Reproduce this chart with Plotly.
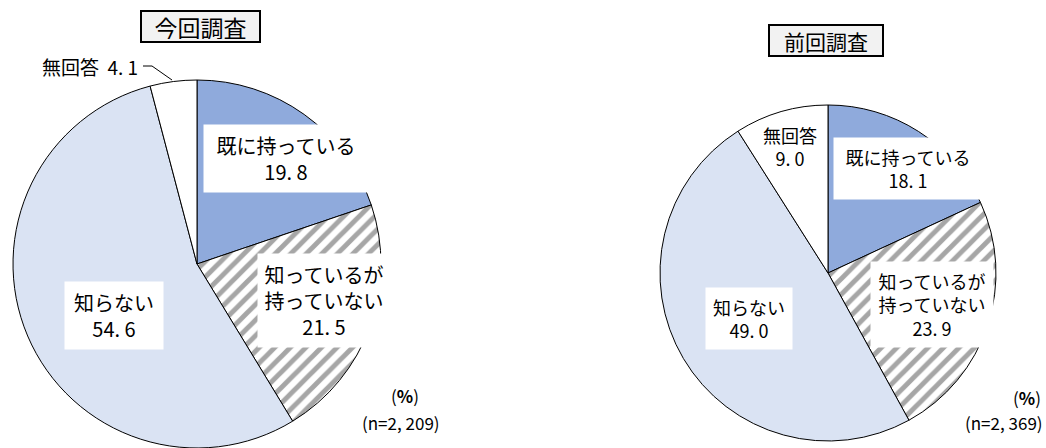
import plotly.graph_objects as go

W, H = 1046, 448

categories = ["既に持っている", "知っているが持っていない", "知らない", "無回答"]
label_lines = ["既に持っている", "知っているが<br>持っていない", "知らない", "無回答"]
current_values = [19.8, 21.5, 54.6, 4.1]
previous_values = [18.1, 23.9, 49.0, 9.0]
titles = ["今回調査", "前回調査"]
n_labels = ["(n=2, 209)", "(n=2, 369)"]
unit_label = "(<b>%</b>)"

colors = ["#8FAADC", "#FFFFFF", "#DAE3F3", "#FFFFFF"]
patterns = ["", "/", "", ""]
FONT = "Noto Sans CJK JP"


def px(x, y):
    return x / W, 1 - y / H


def pie(values, x0, x1, y0, y1):
    return go.Pie(
        labels=categories, values=values, sort=False, direction="clockwise",
        rotation=0, textinfo="none", hoverinfo="label+value", showlegend=False,
        domain=dict(x=[max(0, x0 / W), min(1, x1 / W)],
                    y=[max(0, 1 - y1 / H), min(1, 1 - y0 / H)]),
        marker=dict(colors=colors, line=dict(color="#000000", width=1),
                    pattern=dict(shape=patterns, fgcolor="#A6A6A6", size=11,
                                 solidity=0.45)),
    )


fig = go.Figure()
fig.add_trace(pie(current_values, 13, 381, 80, 448))
fig.add_trace(pie(previous_values, 660, 996, 105, 441))

ann = []


def fmt(v):
    return f"{v:.1f}".replace(".", ". ")


def label(x, y, text, size, bg="#FFFFFF", pad=6, w=None):
    xx, yy = px(x, y)
    d = dict(x=xx, y=yy, xref="paper", yref="paper", text=text,
             showarrow=False, xanchor="center", yanchor="middle",
             align="center", bgcolor=bg, borderpad=pad,
             font=dict(family=FONT, size=size, color="#000000"))
    if w:
        d["width"] = w
    ann.append(d)


# left pie labels
label(286, 158, f"{label_lines[0]}<br>{fmt(current_values[0])}", 20, w=152)
label(324, 300, f"{label_lines[1]}<br>{fmt(current_values[1])}", 20, w=120)
label(114, 315, f"{label_lines[2]}<br>{fmt(current_values[2])}", 20, w=86)
xx, yy = px(140, 66)
ann.append(dict(x=xx, y=yy, xref="paper", yref="paper",
                text=f"{categories[3]}  {fmt(current_values[3])}", showarrow=False,
                xanchor="right", yanchor="middle",
                font=dict(family=FONT, size=19, color="#000000")))

# right pie labels
label(790, 146, f"{label_lines[3]}<br>{fmt(previous_values[3])}", 18, bg="rgba(0,0,0,0)", pad=2)
label(908, 169, f"{label_lines[0]}<br>{fmt(previous_values[0])}", 18, w=136)
label(932, 304, f"{label_lines[1]}<br>{fmt(previous_values[1])}", 18, w=110)
label(749, 318, f"{label_lines[2]}<br>{fmt(previous_values[2])}", 18, w=74)

# titles
for (cx, cy, t, s, bw, bh) in [(201, 27, titles[0], 23, 113, 25), (826, 41, titles[1], 21, 108, 25)]:
    xx, yy = px(cx, cy)
    ann.append(dict(x=xx, y=yy, xref="paper", yref="paper", text=t, showarrow=False,
                    xanchor="center", yanchor="middle", bgcolor="#F2F2F2",
                    bordercolor="#000000", borderwidth=2, borderpad=2,
                    width=bw, height=bh,
                    font=dict(family=FONT, size=s, color="#000000")))

# unit and n labels
for (ux, uy) in [(421, 395), (1043, 397)]:
    xx, yy = px(ux, uy)
    ann.append(dict(x=xx, y=yy, xref="paper", yref="paper", text=unit_label,
                    showarrow=False, xanchor="right", yanchor="middle",
                    font=dict(family=FONT, size=17, color="#000000")))
for (nx, ny, t) in [(442, 422, n_labels[0]), (1045, 422, n_labels[1])]:
    xx, yy = px(nx, ny)
    ann.append(dict(x=xx, y=yy, xref="paper", yref="paper", text=t,
                    showarrow=False, xanchor="right", yanchor="middle",
                    font=dict(family=FONT, size=17, color="#000000")))

# leader line for small slice
p = [px(143, 66), px(152, 66), px(172, 80)]
path = "M {} {} L {} {} L {} {}".format(p[0][0], p[0][1], p[1][0], p[1][1], p[2][0], p[2][1])
shapes = [dict(type="path", xref="paper", yref="paper", path=path,
               line=dict(color="#000000", width=1))]

fig.update_layout(width=W, height=H, margin=dict(l=0, r=0, t=0, b=0),
                  paper_bgcolor="#FFFFFF", plot_bgcolor="#FFFFFF",
                  annotations=ann, shapes=shapes,
                  font=dict(family=FONT))
fig.write_html("out.html", config={"displayModeBar": False},
               post_script="document.body.style.margin='0';document.body.style.overflow='hidden';")
